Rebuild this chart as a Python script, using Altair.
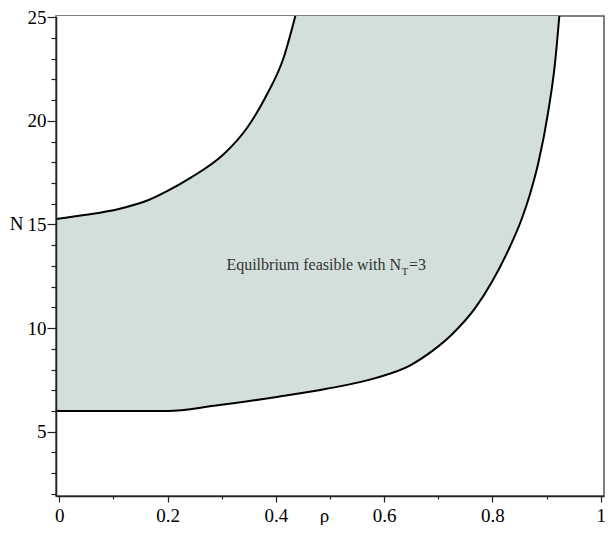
import altair as alt
import pandas as pd

# Upper boundary of the feasible region (rho, N)
rho_upper = [-0.006, 0.05, 0.11, 0.165, 0.20, 0.243, 0.304, 0.347, 0.3835, 0.414, 0.436]
n_upper = [15.27, 15.47, 15.75, 16.18, 16.62, 17.26, 18.40, 19.67, 21.27, 23.02, 25.06]

# Lower boundary of the feasible region (rho, N)
rho_lower = [-0.006, 0.0, 0.10, 0.20, 0.286, 0.4018, 0.4936, 0.5853, 0.6465, 0.689, 0.726,
             0.769, 0.7994, 0.830, 0.8545, 0.8697, 0.885, 0.903, 0.9156, 0.9235]
n_lower = [6.0, 6.0, 6.0, 6.0, 6.25, 6.68, 7.07, 7.6, 8.18, 8.9, 9.72,
           11.0, 12.25, 13.8, 15.3, 16.5, 18.0, 20.45, 22.8, 25.06]

x_major = [0, 0.2, 0.4, 0.6, 0.8, 1.0]
x_minor = [0.1, 0.3, 0.5, 0.7, 0.9]
y_major = [5, 10, 15, 20, 25]
y_minor = [2, 3, 4, 6, 7, 8, 9, 11, 12, 13, 14, 16, 17, 18, 19, 21, 22, 23, 24]
x_domain = [-0.006, 1.006]
y_domain = [1.9, 25.06]

anno_rho = [0.6312]
anno_n = [12.80]
anno_main = ["Equilbrium feasible with N"]
anno_sub = ["T"]
anno_tail = ["=3"]

FILL = "#d2dfdb"
FONT = "Liberation Serif"

df_up = pd.DataFrame({"rho": rho_upper, "N": n_upper})
df_lo = pd.DataFrame({"rho": rho_lower, "N": n_lower})
df_an = pd.DataFrame({"rho": anno_rho, "N": anno_n, "main": anno_main,
                      "sub": anno_sub, "tail": anno_tail})

xscale = alt.Scale(domain=x_domain, nice=False, zero=False)
yscale = alt.Scale(domain=y_domain, nice=False, zero=False)

xaxis = alt.Axis(
    values=x_major, format=".1~f", orient="bottom", zindex=1,
    tickSize=6, labelOverlap=False, labelFlush=False, grid=False,
    labelFont=FONT, labelFontSize=19, labelColor="black",
    labelBaseline="alphabetic", labelPadding=19,
    title="ρ", titleX=268, titleY=25, titleBaseline="alphabetic",
    titleAlign="center", titleFontWeight="normal",
    titleFont=FONT, titleFontSize=19, titleColor="black",
)
yaxis = alt.Axis(
    values=y_major, orient="left", zindex=1,
    tickSize=9, labelOverlap=False, labelFlush=False, grid=False,
    labelFont=FONT, labelFontSize=19, labelColor="black",
    labelPadding=1,
    title="N", titleAngle=0, titleX=-40, titleY=207, titleAlign="center",
    titleBaseline="middle", titleFontWeight="normal",
    titleFont=FONT, titleFontSize=19, titleColor="black",
)
xaxis_minor = alt.Axis(values=x_minor, orient="bottom", zindex=1, tickSize=3,
                       labels=False, domain=False, grid=False, title=None)
yaxis_minor = alt.Axis(values=y_minor, orient="left", zindex=1, tickSize=5,
                       labels=False, domain=False, grid=False, title=None)

x = alt.X("rho:Q", scale=xscale, axis=xaxis)
y = alt.Y("N:Q", scale=yscale, axis=yaxis)
xm = alt.X("rho:Q", scale=xscale, axis=xaxis_minor)
ym = alt.Y("N:Q", scale=yscale, axis=yaxis_minor)

fill_area = alt.Chart(df_lo).mark_area(color=FILL, clip=True, opacity=1,
                                       interpolate="monotone").encode(
    x=x, y=y, y2=alt.datum(y_domain[1]))
white_area = alt.Chart(df_up).mark_area(color="white", clip=True, opacity=1,
                                        interpolate="monotone").encode(
    x=x, y=y, y2=alt.datum(y_domain[1]))

txt_main = alt.Chart(df_an).mark_text(font=FONT, fontSize=16, color="#333", align="right",
                                      baseline="alphabetic").encode(x=x, y=y, text="main:N")
txt_sub = alt.Chart(df_an).mark_text(font=FONT, fontSize=11, color="#333", align="left",
                                     baseline="alphabetic", dx=0.5, dy=5).encode(x=x, y=y, text="sub:N")
txt_tail = alt.Chart(df_an).mark_text(font=FONT, fontSize=16, color="#333", align="left",
                                      baseline="alphabetic", dx=8).encode(x=x, y=y, text="tail:N")

major_group = alt.layer(fill_area, white_area, txt_main, txt_sub, txt_tail)

line_lo = alt.Chart(df_lo).mark_line(color="black", strokeWidth=2, clip=True,
                                     interpolate="monotone").encode(x=xm, y=ym)
line_up = alt.Chart(df_up).mark_line(color="black", strokeWidth=2, clip=True,
                                     interpolate="monotone").encode(x=xm, y=ym)
minor_group = alt.layer(line_lo, line_up)

chart = alt.layer(major_group, minor_group).resolve_scale(
    x="shared", y="shared"
).resolve_axis(
    x="independent", y="independent"
).properties(
    width=548, height=480,
    autosize=alt.AutoSizeParams(type="none"),
    padding={"left": 48, "top": 8, "right": 1, "bottom": 29},
    background="white",
).configure_view(
    stroke="#555", strokeWidth=1.5
).configure_axis(
    domainColor="#222", domainWidth=1.5, tickColor="#222", tickWidth=1.2,
)

chart.save("out.html", embed_options={"renderer": "svg", "actions": False})
